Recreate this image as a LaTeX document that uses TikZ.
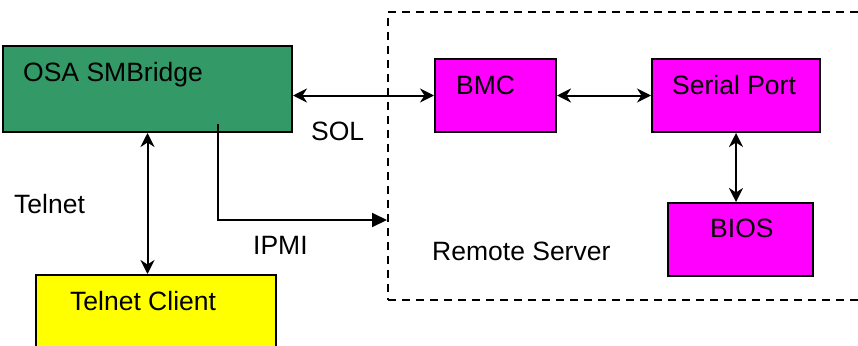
\documentclass[tikz,border=0pt]{standalone}
\usepackage{fontspec}
\setmainfont{Liberation Sans}
\usetikzlibrary{arrows.meta}
\definecolor{bridgegreen}{HTML}{339966}
\definecolor{boxmagenta}{HTML}{FF00FF}
\definecolor{boxyellow}{HTML}{FFFF00}
\tikzset{
  boxnode/.style={draw=black, line width=2pt, inner sep=0pt, anchor=north west},
  txt/.style={inner sep=0pt, anchor=base west, font=\fontsize{26.5}{30}\selectfont},
  dbl/.style={line width=2pt, {Stealth[length=14pt,width=14pt,inset=4.5pt]}-{Stealth[length=14pt,width=14pt,inset=4.5pt]}},
  tri/.style={line width=2pt, -{Triangle[length=15pt,width=14pt]}}
}
\begin{document}
\begin{tikzpicture}[x=1pt,y=-1pt]
\useasboundingbox (0,0) rectangle (858,345);
\clip (0,0) rectangle (858,345);
\fill[white] (0,0) rectangle (858,345);
% remote server dashed region
\node[draw=black, line width=1.7pt, dash pattern=on 8pt off 6pt, inner sep=0pt, anchor=north west,
      minimum width=490pt, minimum height=288pt] (remote) at (387,11) {};
% boxes
\node[boxnode, fill=bridgegreen, minimum width=289pt, minimum height=86pt] (bridge) at (2,45) {};
\node[boxnode, fill=boxmagenta, minimum width=121pt, minimum height=73pt] (bmc) at (434,58) {};
\node[boxnode, fill=boxmagenta, minimum width=168pt, minimum height=73pt] (serial) at (651,58) {};
\node[boxnode, fill=boxmagenta, minimum width=145pt, minimum height=73pt] (bios) at (667,202) {};
\node[boxnode, fill=boxyellow, minimum width=240pt, minimum height=100pt] (client) at (35,274) {};
% texts
\node[txt] (tbridge) at (23,81) {OSA SMBridge};
\node[txt] (tbmc) at (456,94) {BMC};
\node[txt] (tserial) at (672,94) {Serial Port};
\node[txt] (tbios) at (710,237) {BIOS};
\node[txt] (tclient) at (70,310) {Telnet Client};
\node[txt] (tremote) at (432,260) {Remote Server};
\node[txt] (ttelnet) at (14,213) {Telnet};
\node[txt] (tipmi) at (253,254) {IPMI};
\node[txt] (tsol) at (311,140) {SOL};
% connectors
\draw[dbl] (bridge.east |- bmc.west) -- (bmc.west);
\draw[dbl] (bmc.east) -- (serial.west);
\draw[dbl] (serial.south) -- (serial.south |- bios.north);
\draw[dbl] (bridge.south) -- (bridge.south |- client.north);
\coordinate (ipmistart) at (218,124);
\coordinate (ipmiend) at (remote.west |- 0,220);
\draw[tri] (ipmistart) |- (ipmiend);
\end{tikzpicture}
\end{document}
